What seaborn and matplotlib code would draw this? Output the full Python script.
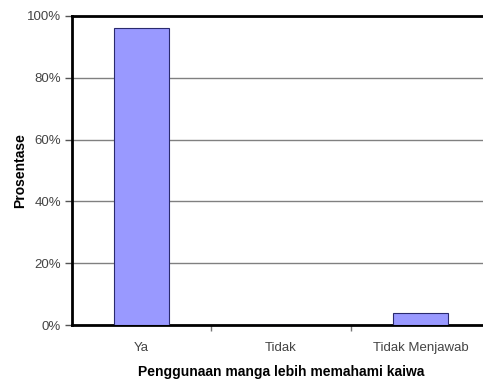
import matplotlib
matplotlib.use("Agg")
import matplotlib.pyplot as plt
from matplotlib.ticker import FixedLocator, PercentFormatter
import seaborn as sns
import pandas as pd

categories = ["Ya", "Tidak", "Tidak Menjawab"]
percentages = [96, 0, 4]
y_ticks = [0, 20, 40, 60, 80, 100]

sns.set_style("white")
plt.rcParams["font.family"] = ["Liberation Sans", "DejaVu Sans"]

df = pd.DataFrame({"kategori": categories, "persen": percentages})

fig = plt.figure(figsize=(4.83, 3.85), dpi=100)
ax = fig.add_axes([72 / 483, 60 / 385, 418 / 483, 309 / 385])

sns.barplot(data=df, x="kategori", y="persen", color="#9999FF",
            edgecolor="#2a2a6e", linewidth=0.8, width=0.39,
            saturation=1, ax=ax, zorder=3)

ax.set_xlim(-0.5, 2.5)
ax.set_ylim(0, 100)
ax.yaxis.set_major_locator(FixedLocator(y_ticks))
ax.yaxis.set_major_formatter(PercentFormatter(decimals=0))
ax.grid(axis="y", color="#808080", linewidth=1.0, zorder=0)
ax.set_axisbelow(True)

for side in ["left", "bottom", "top"]:
    ax.spines[side].set_visible(True)
    ax.spines[side].set_color("black")
    ax.spines[side].set_linewidth(2.0)
ax.spines["right"].set_visible(False)

ax.tick_params(axis="y", which="major", left=True, length=5, width=1,
               color="#555555", labelsize=9.5, labelcolor="#444444", pad=3)
ax.tick_params(axis="x", which="major", bottom=False, labelsize=9.5,
               labelcolor="#444444", pad=9)
ax.xaxis.set_minor_locator(FixedLocator([0.5, 1.5]))
ax.tick_params(axis="x", which="minor", bottom=True, length=4, width=1,
               color="#777777")

ax.set_xlabel("Penggunaan manga lebih memahami kaiwa", fontsize=10,
              fontweight="bold", labelpad=8, color="black")
ax.set_ylabel("Prosentase", fontsize=10, fontweight="bold", labelpad=0,
              color="black")

fig.savefig("out.png", dpi=100)
